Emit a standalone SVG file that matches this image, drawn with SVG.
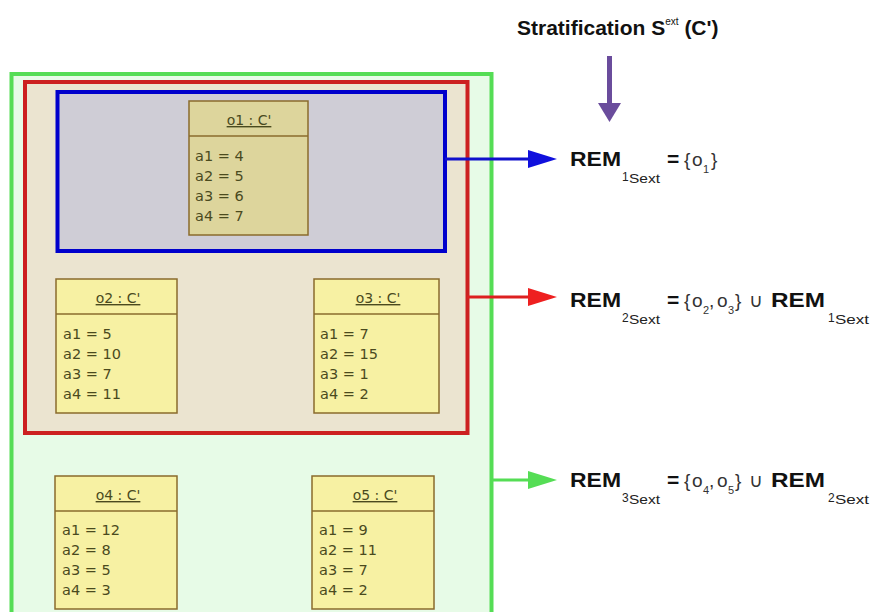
<svg xmlns="http://www.w3.org/2000/svg" width="873" height="612" viewBox="0 0 873 612">
<style>
.obj{fill:#f7f1a3;stroke:#8a6b2c;stroke-width:1.5}
.obj1{fill:#ddd59c;stroke:#8a6b2c;stroke-width:1.5}
.div{stroke:#8a6b2c;stroke-width:1.5}
.hd{font-family:"DejaVu Sans",sans-serif;font-size:14px;fill:#4a4a1e;text-anchor:middle;text-decoration:underline}
.at{font-family:"DejaVu Sans",sans-serif;font-size:14.5px;fill:#4a4a1e}
.rem{font-family:"Liberation Sans",Arial,sans-serif;font-weight:bold;font-size:21px;fill:#111}
.sub{font-family:"Liberation Sans",Arial,sans-serif;font-size:12px;fill:#222}
.sub2{font-family:"Liberation Sans",Arial,sans-serif;font-size:13px;fill:#222}
.set{font-family:"Liberation Sans",Arial,sans-serif;font-size:19px;fill:#333}
.ssub{font-family:"Liberation Sans",Arial,sans-serif;font-size:11px;fill:#333}
.ttl{font-family:"Liberation Sans",Arial,sans-serif;font-weight:bold;font-size:21px;fill:#111}
</style>
<rect width="873" height="612" fill="#ffffff"/>
<g id="stratum3">
<rect x="11.5" y="74" width="480" height="560" fill="#e7fbe7" stroke="#55dd55" stroke-width="4"/>
</g>
<g id="stratum2">
<rect x="25" y="82" width="442.5" height="351" fill="#ebe4d0" stroke="#cc2020" stroke-width="4"/>
</g>
<g id="stratum1">
<rect x="57.5" y="92" width="387.5" height="159" fill="#cfcdd6" stroke="#0000cc" stroke-width="4"/>
</g>
<g id="o1">
<rect class="obj1" x="189" y="101" width="119" height="134"/>
<line class="div" x1="189" y1="136" x2="308" y2="136"/>
<text class="hd" x="249" y="125">o1 : C'</text>
<text class="at" x="195" y="161">a1 = 4</text>
<text class="at" x="195" y="181">a2 = 5</text>
<text class="at" x="195" y="201">a3 = 6</text>
<text class="at" x="195" y="221">a4 = 7</text>
</g>
<g id="o2">
<rect class="obj" x="56" y="279" width="121" height="134"/>
<line class="div" x1="56" y1="314" x2="177" y2="314"/>
<text class="hd" x="118" y="303">o2 : C'</text>
<text class="at" x="63" y="339">a1 = 5</text>
<text class="at" x="63" y="359">a2 = 10</text>
<text class="at" x="63" y="379">a3 = 7</text>
<text class="at" x="63" y="399">a4 = 11</text>
</g>
<g id="o3">
<rect class="obj" x="314" y="279" width="125" height="134"/>
<line class="div" x1="314" y1="314" x2="439" y2="314"/>
<text class="hd" x="378" y="303">o3 : C'</text>
<text class="at" x="320" y="339">a1 = 7</text>
<text class="at" x="320" y="359">a2 = 15</text>
<text class="at" x="320" y="379">a3 = 1</text>
<text class="at" x="320" y="399">a4 = 2</text>
</g>
<g id="o4">
<rect class="obj" x="55" y="476" width="122" height="133"/>
<line class="div" x1="55" y1="511" x2="177" y2="511"/>
<text class="hd" x="118" y="500">o4 : C'</text>
<text class="at" x="62" y="535">a1 = 12</text>
<text class="at" x="62" y="555">a2 = 8</text>
<text class="at" x="62" y="575">a3 = 5</text>
<text class="at" x="62" y="595">a4 = 3</text>
</g>
<g id="o5">
<rect class="obj" x="312" y="476" width="122" height="133"/>
<line class="div" x1="312" y1="511" x2="434" y2="511"/>
<text class="hd" x="375" y="500">o5 : C'</text>
<text class="at" x="319" y="535">a1 = 9</text>
<text class="at" x="319" y="555">a2 = 11</text>
<text class="at" x="319" y="575">a3 = 7</text>
<text class="at" x="319" y="595">a4 = 2</text>
</g>
<g id="connectors">
<line x1="609.5" y1="56" x2="609.5" y2="105" stroke="#6a4c9c" stroke-width="5"/>
<polygon points="598,103 621,103 609.5,122" fill="#6a4c9c"/>
<line x1="445" y1="159" x2="530" y2="159" stroke="#1010cc" stroke-width="3"/>
<polygon points="528,150 557,159 528,168" fill="#1010dd"/>
<line x1="467.5" y1="297" x2="530" y2="297" stroke="#dd2020" stroke-width="3"/>
<polygon points="528,288 557,297 528,306" fill="#ee2020"/>
<line x1="491.5" y1="480" x2="530" y2="480" stroke="#55dd55" stroke-width="3"/>
<polygon points="528,471 557,480 528,489" fill="#55dd55"/>
</g>
<g id="title">
<text class="ttl" x="517" y="35">Stratification S<tspan font-size="10" font-weight="normal" dy="-10">ext</tspan><tspan dy="10"> (C')</tspan></text>
</g>
<g id="rem1">
<text class="rem" x="570" y="166" textLength="51" lengthAdjust="spacingAndGlyphs">REM</text>
<text class="sub" x="622" y="181">1</text>
<text class="sub2" x="629" y="183" textLength="31" lengthAdjust="spacingAndGlyphs">Sext</text>
<text class="rem" x="667" y="166" font-size="18">=</text>
<text class="set" x="684" y="166">{</text>
<text class="set" x="692" y="166">o</text>
<text class="ssub" x="703" y="173">1</text>
<text class="set" x="711" y="166">}</text>
</g>
<g id="rem2">
<text class="rem" x="570" y="307" textLength="51" lengthAdjust="spacingAndGlyphs">REM</text>
<text class="sub" x="622" y="322">2</text>
<text class="sub2" x="629" y="324" textLength="31" lengthAdjust="spacingAndGlyphs">Sext</text>
<text class="rem" x="667" y="307" font-size="18">=</text>
<text class="set" x="684" y="307">{</text>
<text class="set" x="692" y="307">o</text>
<text class="ssub" x="703" y="314">2</text>
<text class="set" x="709" y="307">,</text>
<text class="set" x="717" y="307">o</text>
<text class="ssub" x="728" y="314">3</text>
<text class="set" x="735" y="307">}</text>
<text class="set" x="749" y="307">∪</text>
<text class="rem" x="771" y="307" textLength="54" lengthAdjust="spacingAndGlyphs">REM</text>
<text class="sub" x="828" y="322">1</text>
<text class="sub2" x="835" y="324" textLength="34" lengthAdjust="spacingAndGlyphs">Sext</text>
</g>
<g id="rem3">
<text class="rem" x="570" y="487" textLength="51" lengthAdjust="spacingAndGlyphs">REM</text>
<text class="sub" x="622" y="502">3</text>
<text class="sub2" x="629" y="504" textLength="31" lengthAdjust="spacingAndGlyphs">Sext</text>
<text class="rem" x="667" y="487" font-size="18">=</text>
<text class="set" x="684" y="487">{</text>
<text class="set" x="692" y="487">o</text>
<text class="ssub" x="703" y="494">4</text>
<text class="set" x="709" y="487">,</text>
<text class="set" x="717" y="487">o</text>
<text class="ssub" x="728" y="494">5</text>
<text class="set" x="735" y="487">}</text>
<text class="set" x="749" y="487">∪</text>
<text class="rem" x="771" y="487" textLength="54" lengthAdjust="spacingAndGlyphs">REM</text>
<text class="sub" x="828" y="502">2</text>
<text class="sub2" x="835" y="504" textLength="34" lengthAdjust="spacingAndGlyphs">Sext</text>
</g>
</svg>
